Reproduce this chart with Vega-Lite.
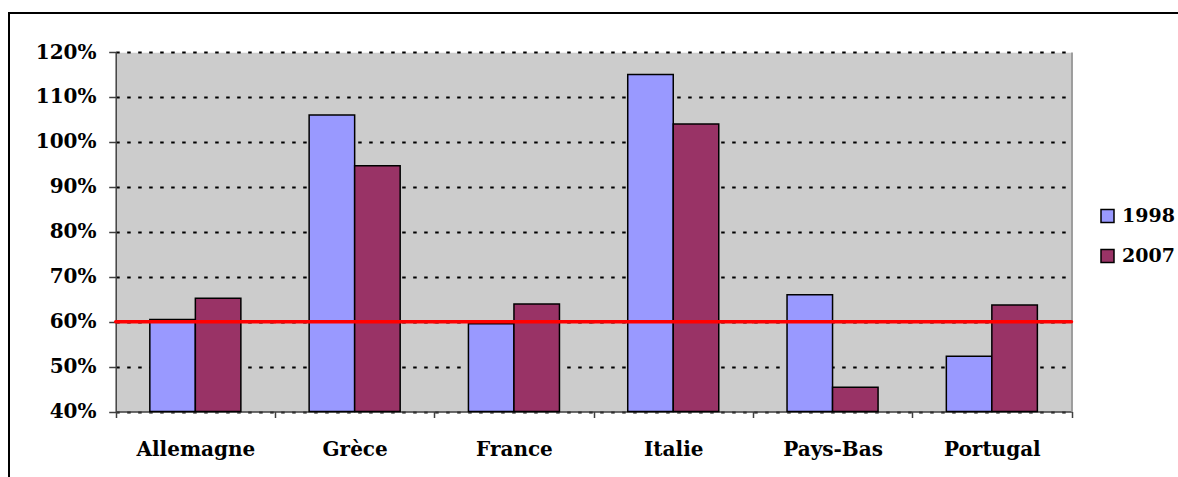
{
  "$schema": "https://vega.github.io/schema/vega-lite/v6.json",
  "width": 1170,
  "height": 466,
  "autosize": {"type": "none"},
  "padding": {"left": 9, "top": 13, "right": 0, "bottom": 0},
  "background": "white",
  "config": {
    "view": {"stroke": "black", "strokeWidth": 2, "fill": "white"},
    "font": "DejaVu Serif",
    "axis": {"labelFont": "DejaVu Serif", "labelFontWeight": "bold", "labelFontSize": 20, "labelColor": "black"},
    "legend": {
      "orient": "none", "legendX": 1089, "legendY": 193.5, "title": null,
      "symbolType": "square", "symbolSize": 169, "symbolStrokeColor": "black", "symbolStrokeWidth": 1.5, "symbolOpacity": 1,
      "labelFont": "DejaVu Serif", "labelFontWeight": "bold", "labelFontSize": 19, "labelColor": "black",
      "labelOffset": 5, "rowPadding": 20, "padding": 0
    }
  },
  "datasets": {
    "dette": [
      {"pays": "Allemagne", "annee": "1998", "ratio": 0.605},
      {"pays": "Allemagne", "annee": "2007", "ratio": 0.652},
      {"pays": "Grèce", "annee": "1998", "ratio": 1.06},
      {"pays": "Grèce", "annee": "2007", "ratio": 0.947},
      {"pays": "France", "annee": "1998", "ratio": 0.595},
      {"pays": "France", "annee": "2007", "ratio": 0.639},
      {"pays": "Italie", "annee": "1998", "ratio": 1.15},
      {"pays": "Italie", "annee": "2007", "ratio": 1.04},
      {"pays": "Pays-Bas", "annee": "1998", "ratio": 0.66},
      {"pays": "Pays-Bas", "annee": "2007", "ratio": 0.454},
      {"pays": "Portugal", "annee": "1998", "ratio": 0.523},
      {"pays": "Portugal", "annee": "2007", "ratio": 0.637}
    ],
    "pays": [
      {"pays": "Allemagne"}, {"pays": "Grèce"}, {"pays": "France"},
      {"pays": "Italie"}, {"pays": "Pays-Bas"}, {"pays": "Portugal"}
    ]
  },
  "resolve": {"axis": {"y": "independent"}},
  "encoding": {
    "x": {
      "field": "pays", "type": "nominal", "sort": null,
      "scale": {"domain": ["Allemagne", "Grèce", "France", "Italie", "Pays-Bas", "Portugal"], "range": [106.7, 1062.5], "paddingInner": 0, "paddingOuter": 0},
      "axis": {
        "orient": "bottom", "offset": -67.5, "tickBand": "extent", "tickSize": 6, "tickColor": "#404040", "tickWidth": 1.5,
        "domainColor": "#404040", "domainWidth": 1.5, "labelPadding": 37.5, "labelBaseline": "alphabetic",
        "labelAngle": 0, "grid": false, "title": null
      }
    }
  },
  "layer": [
    {
      "data": {"name": "dette"},
      "mark": {"type": "bar", "stroke": "black", "strokeWidth": 1.5},
      "encoding": {
        "xOffset": {"field": "annee", "type": "nominal", "scale": {"paddingInner": 0, "paddingOuter": 0.75}},
        "y": {
          "field": "ratio", "type": "quantitative",
          "scale": {"domain": [0.4, 1.2], "range": [398.5, 39], "nice": false, "zero": false},
          "axis": {"orient": "right", "offset": -107.5, "values": [0.8], "grid": true, "gridColor": "#CCCCCC", "gridWidth": 359.5, "gridCap": "butt", "domain": true, "domainColor": "#8C8C8C", "domainWidth": 1.5, "ticks": false, "labels": false, "title": null, "zindex": 0}
        },
        "y2": {"datum": 0.4},
        "color": {"field": "annee", "type": "nominal", "scale": {"domain": ["1998", "2007"], "range": ["#9999FF", "#993366"]}}
      }
    },
    {
      "data": {"name": "pays"},
      "mark": {"type": "rect", "fill": "#FF0000", "stroke": "#FF0000", "strokeWidth": 3.5, "strokeJoin": "round"},
      "encoding": {
        "y": {
          "datum": 0.6, "type": "quantitative",
          "axis": {"orient": "left", "offset": -106.7, "values": [0.4, 0.5, 0.6, 0.7, 0.8, 0.9, 1.0, 1.1, 1.2], "format": ".0%", "grid": true, "gridColor": "black", "gridWidth": 2, "gridDash": [3.5, 7.5], "domainColor": "#404040", "domainWidth": 1.5, "tickColor": "#404040", "tickWidth": 1.5, "tickSize": 7, "labelPadding": 12.7, "title": null, "zindex": 0}
        },
        "y2": {"datum": 0.6}
      }
    }
  ]
}
